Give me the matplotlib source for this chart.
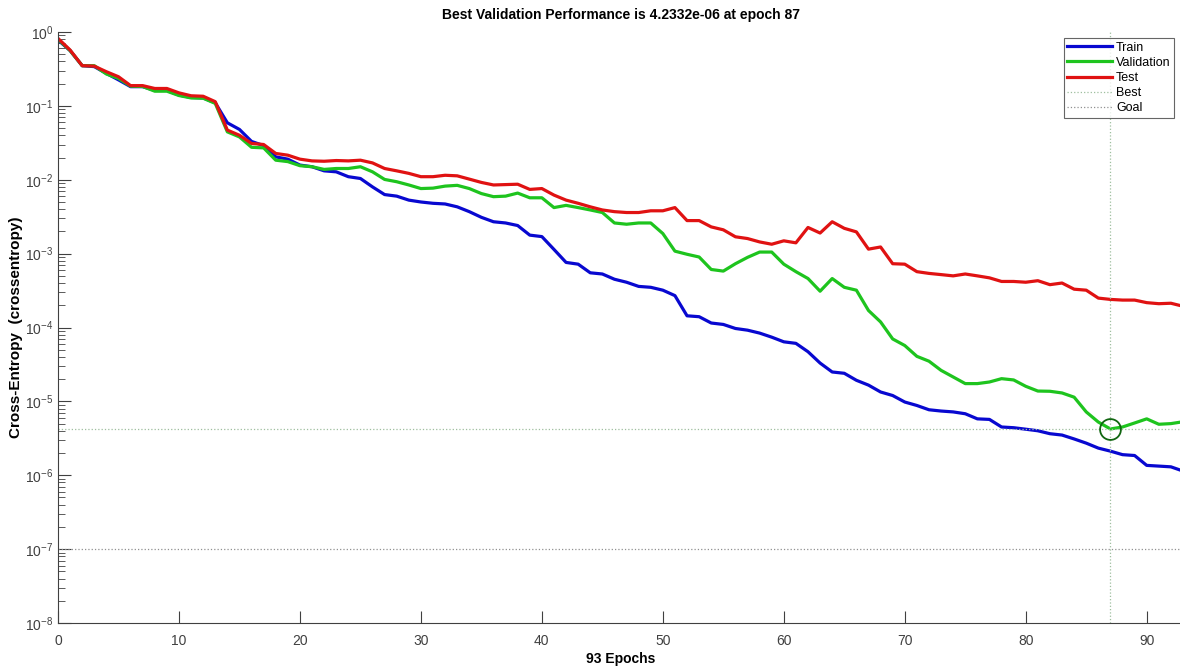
import matplotlib
matplotlib.use('Agg')
import matplotlib.pyplot as plt
import numpy as np

plt.rcParams['font.family'] = ['Liberation Sans', 'DejaVu Sans']

# Performance per epoch
epochs = np.arange(0, 94)

train = [0.78, 0.56, 0.35, 0.34, 0.275, 0.225, 0.182, 0.182, 0.162, 0.162,
         0.140, 0.130, 0.128, 0.110, 0.059, 0.048, 0.033, 0.029, 0.0204, 0.019,
         0.0158, 0.015, 0.0132, 0.0128, 0.011, 0.0104, 0.008, 0.0063, 0.006, 0.0053,
         0.005, 0.0048, 0.0047, 0.0043, 0.0037, 0.0031, 0.0027, 0.0026, 0.0024, 0.00178,
         0.0017, 0.00114, 0.00076, 0.00072, 0.00055, 0.00053, 0.00045, 0.00041, 0.00036, 0.00035,
         0.00032, 0.00027, 0.000144, 0.00014, 0.000115, 0.00011, 9.7e-5, 9.2e-5, 8.4e-5, 7.4e-5,
         6.4e-5, 6.1e-5, 4.7e-5, 3.3e-5, 2.5e-5, 2.4e-5, 1.93e-5, 1.66e-5, 1.34e-5, 1.2e-5,
         9.8e-6, 8.8e-6, 7.7e-6, 7.4e-6, 7.2e-6, 6.8e-6, 5.8e-6, 5.7e-6, 4.5e-6, 4.4e-6,
         4.2e-6, 4.0e-6, 3.65e-6, 3.5e-6, 3.1e-6, 2.72e-6, 2.33e-6, 2.12e-6, 1.9e-6, 1.85e-6,
         1.36e-6, 1.33e-6, 1.3e-6, 1.14e-6]

validation = [0.80, 0.56, 0.35, 0.35, 0.27, 0.235, 0.185, 0.183, 0.158, 0.158,
              0.138, 0.128, 0.127, 0.108, 0.0445, 0.038, 0.0275, 0.027, 0.0184, 0.0176,
              0.0155, 0.015, 0.0138, 0.0142, 0.0142, 0.0150, 0.0128, 0.0101, 0.0094, 0.0085,
              0.0076, 0.0077, 0.0082, 0.0084, 0.0076, 0.0065, 0.0059, 0.006, 0.0066, 0.0057,
              0.0057, 0.0042, 0.0045, 0.0042, 0.0039, 0.0036, 0.0026, 0.0025, 0.0026, 0.0026,
              0.00187, 0.00108, 0.00098, 0.0009, 0.00061, 0.00058, 0.00073, 0.00089, 0.00105, 0.00105,
              0.00072, 0.00057, 0.00046, 0.00031, 0.00046, 0.00035, 0.00032, 0.00017, 0.000119, 7e-5,
              5.7e-5, 4.07e-5, 3.5e-5, 2.63e-5, 2.14e-5, 1.74e-5, 1.74e-5, 1.83e-5, 2.03e-5, 1.95e-5,
              1.6e-5, 1.38e-5, 1.37e-5, 1.3e-5, 1.14e-5, 7.2e-6, 5.25e-6, 4.2332e-6, 4.5e-6, 5.1e-6,
              5.8e-6, 4.9e-6, 5.0e-6, 5.3e-6]

test = [0.82, 0.57, 0.35, 0.345, 0.29, 0.248, 0.188, 0.188, 0.172, 0.172,
        0.150, 0.137, 0.135, 0.114, 0.047, 0.040, 0.031, 0.030, 0.0227, 0.0215,
        0.019, 0.018, 0.0178, 0.0182, 0.018, 0.0184, 0.0169, 0.0142, 0.0132, 0.0122,
        0.011, 0.011, 0.0115, 0.0113, 0.0102, 0.0092, 0.0085, 0.0086, 0.0087, 0.0074,
        0.0076, 0.0062, 0.0053, 0.0048, 0.0043, 0.0039, 0.0037, 0.0036, 0.0036, 0.0038,
        0.0038, 0.0042, 0.0028, 0.0028, 0.0023, 0.0021, 0.00169, 0.0016, 0.00144, 0.00134,
        0.00149, 0.0014, 0.00226, 0.0019, 0.0027, 0.0022, 0.00197, 0.00115, 0.00123, 0.00073,
        0.00072, 0.00057, 0.00054, 0.00052, 0.00050, 0.00053, 0.00050, 0.00047, 0.00042, 0.00042,
        0.00041, 0.00043, 0.00038, 0.0004, 0.00033, 0.00032, 0.00025, 0.00024, 0.000235, 0.000235,
        0.000217, 0.00021, 0.000213, 0.000194]

best_epoch = 87
best_perf = 4.2332e-06
goal = 1e-7

fig = plt.figure(figsize=(11.8, 6.69), dpi=100)
ax = fig.add_axes([58/1180, 1 - 623/669, 1125/1180, 591/669])

ax.plot(epochs, train, color='#0808d0', lw=2.3, label='Train')
ax.plot(epochs, validation, color='#1ec41e', lw=2.3, label='Validation')
ax.plot(epochs, test, color='#e01212', lw=2.3, label='Test')
ax.axvline(best_epoch, color='#9fbf9f', lw=0.9, ls=':', label='Best')
ax.axhline(best_perf, color='#9fbf9f', lw=0.9, ls=':')
ax.axhline(goal, color='#909090', lw=0.9, ls=':', label='Goal')
ax.plot([best_epoch], [best_perf], 'o', mfc='none', mec='#116611', ms=15, mew=1.3)

ax.set_yscale('log')
ax.set_xlim(0, 93)
ax.set_ylim(1e-8, 1)
ax.set_xticks(np.arange(0, 91, 10))
ax.set_yticks([10.0**k for k in range(-8, 1)])

for s in ['top', 'right']:
    ax.spines[s].set_visible(False)
for s in ['left', 'bottom']:
    ax.spines[s].set_color('#404040')
ax.tick_params(which='major', direction='in', length=9, color='#404040',
               labelcolor='#404040', labelsize=10)
ax.tick_params(which='minor', direction='in', length=5, color='#404040')
ax.tick_params(axis='x', pad=8)

ax.set_title('Best Validation Performance is 4.2332e-06 at epoch 87',
             fontsize=10, fontweight='bold', pad=9)
ax.set_xlabel('93 Epochs', fontsize=10, fontweight='bold', labelpad=3)
ax.set_ylabel('Cross-Entropy  (crossentropy)', fontsize=11, fontweight='bold', labelpad=1)

leg = ax.legend(loc='upper right', bbox_to_anchor=(1174/1183, 0.99), fontsize=9,
                frameon=True, fancybox=False, handlelength=3.6, handletextpad=0.3,
                labelspacing=0.25, borderpad=0.3, borderaxespad=0)
leg.get_frame().set_edgecolor('#404040')
leg.get_frame().set_linewidth(0.8)

fig.savefig('out.png', dpi=100)
